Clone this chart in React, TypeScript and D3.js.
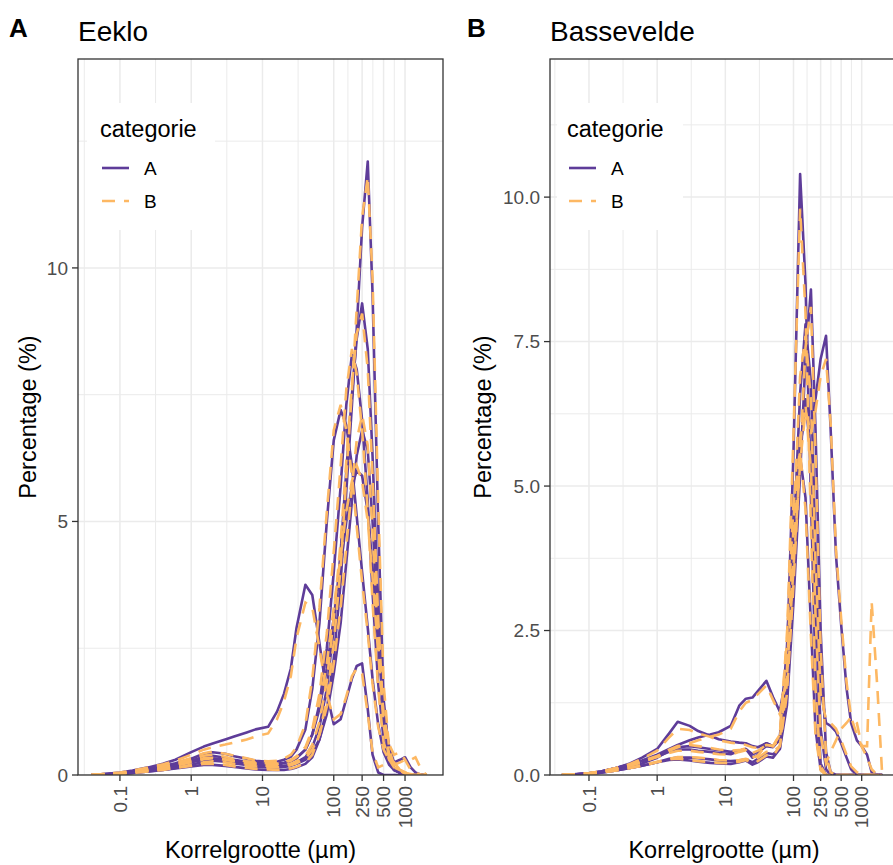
import React from 'react'
import * as d3 from 'd3'

// grain size classes (µm), shared by every sample
const grainSize = [0.04, 0.06, 0.1, 0.15, 0.25, 0.4, 0.6, 1, 1.5, 2,
  3, 4, 6, 8, 12, 16, 20, 25, 30, 40,
  50, 63, 80, 100, 125, 150, 180, 210, 250, 300,
  350, 420, 500, 600, 700, 850, 1000, 1200, 1400, 1700,
  2000]

// Eeklo, categorie A
const eekloA1 = [0, 0.01, 0.02, 0.04, 0.07, 0.1, 0.13, 0.17, 0.2, 0.2,
  0.18, 0.16, 0.13, 0.11, 0.1, 0.1, 0.1, 0.12, 0.15, 0.22,
  0.35, 0.7, 1.3, 2.3, 3.8, 5.6, 7.3, 8.8, 10.8, 12.1,
  9.5, 5.0, 1.5, 0.4, 0.15, 0.05, 0.02, 0, 0, 0, 0]
const eekloA2 = [0, 0.01, 0.03, 0.06, 0.1, 0.14, 0.19, 0.26, 0.32, 0.33,
  0.3, 0.26, 0.22, 0.19, 0.17, 0.17, 0.18, 0.2, 0.25, 0.35,
  0.55, 0.95, 1.7, 2.9, 4.4, 6.0, 7.5, 8.6, 9.3, 8.4,
  6.3, 3.4, 1.2, 0.35, 0.12, 0.05, 0.02, 0, 0, 0, 0]
const eekloA3 = [0, 0.01, 0.03, 0.06, 0.1, 0.15, 0.2, 0.28, 0.36, 0.38,
  0.34, 0.3, 0.26, 0.24, 0.22, 0.22, 0.24, 0.28, 0.34, 0.5,
  0.8, 1.4, 2.5, 4.0, 5.7, 7.3, 8.3, 8.0, 7.0, 5.4,
  3.6, 1.8, 0.7, 0.25, 0.1, 0.05, 0.02, 0, 0, 0, 0]
const eekloA4 = [0, 0.02, 0.04, 0.07, 0.12, 0.17, 0.23, 0.32, 0.42, 0.45,
  0.42, 0.37, 0.32, 0.28, 0.26, 0.26, 0.3, 0.36, 0.5, 0.9,
  1.7, 3.0, 5.0, 6.6, 7.2, 6.9, 6.1, 5.1, 4.0, 2.9,
  1.9, 1.0, 0.45, 0.2, 0.1, 0.05, 0.02, 0, 0, 0, 0]
const eekloA5 = [0, 0.01, 0.03, 0.05, 0.09, 0.13, 0.18, 0.25, 0.3, 0.32,
  0.3, 0.27, 0.24, 0.22, 0.2, 0.21, 0.23, 0.27, 0.33, 0.5,
  0.8, 1.3, 2.1, 3.1, 4.1, 5.0, 5.7, 6.0, 5.9, 5.2,
  4.1, 2.6, 1.3, 0.55, 0.25, 0.3, 0.35, 0.15, 0.05, 0, 0]
const eekloA6 = [0, 0.02, 0.05, 0.09, 0.15, 0.22, 0.3, 0.45, 0.56, 0.62,
  0.7, 0.76, 0.84, 0.9, 0.95, 1.25, 1.6, 2.1, 2.9, 3.75,
  3.55, 2.6, 1.6, 1.0, 1.1, 1.5, 1.9, 2.15, 2.2, 1.3,
  0.4, 0.05, 0, 0, 0, 0, 0, 0, 0, 0, 0]
const eekloA7 = [0, 0.01, 0.02, 0.04, 0.07, 0.1, 0.14, 0.2, 0.26, 0.28,
  0.26, 0.23, 0.2, 0.17, 0.15, 0.15, 0.16, 0.18, 0.22, 0.3,
  0.45, 0.7, 1.2, 2.0, 3.0, 4.2, 5.4, 6.3, 6.8, 6.4,
  5.0, 2.9, 1.1, 0.3, 0.1, 0.04, 0, 0, 0, 0, 0]

// Eeklo, categorie B
const eekloB1 = [0, 0.01, 0.03, 0.05, 0.08, 0.11, 0.14, 0.18, 0.22, 0.22,
  0.2, 0.17, 0.14, 0.12, 0.11, 0.1, 0.11, 0.13, 0.16, 0.24,
  0.4, 0.8, 1.5, 2.6, 4.1, 5.9, 7.6, 9.2, 11.0, 11.8,
  9.8, 5.4, 1.8, 0.5, 0.2, 0.08, 0.03, 0, 0, 0, 0]
const eekloB2 = [0, 0.02, 0.04, 0.07, 0.11, 0.15, 0.2, 0.27, 0.33, 0.34,
  0.3, 0.27, 0.23, 0.2, 0.18, 0.18, 0.19, 0.22, 0.27, 0.38,
  0.6, 1.05, 1.85, 3.1, 4.6, 6.2, 7.7, 8.7, 9.1, 8.0,
  5.9, 3.1, 1.1, 0.4, 0.2, 0.1, 0.05, 0.02, 0, 0, 0]
const eekloB3 = [0, 0.01, 0.03, 0.06, 0.1, 0.15, 0.21, 0.3, 0.38, 0.4,
  0.36, 0.31, 0.27, 0.25, 0.23, 0.23, 0.25, 0.3, 0.37, 0.55,
  0.9, 1.6, 2.8, 4.4, 6.1, 7.6, 8.4, 7.9, 6.8, 5.2,
  3.4, 1.7, 0.65, 0.3, 0.15, 0.08, 0.04, 0.02, 0, 0, 0]
const eekloB4 = [0, 0.02, 0.04, 0.08, 0.12, 0.18, 0.24, 0.33, 0.43, 0.46,
  0.42, 0.38, 0.33, 0.29, 0.27, 0.28, 0.32, 0.4, 0.55, 1.0,
  1.9, 3.3, 5.2, 6.8, 7.3, 6.8, 5.9, 4.9, 3.8, 2.8,
  1.8, 0.95, 0.5, 0.3, 0.2, 0.25, 0.3, 0.3, 0.35, 0.1, 0]
const eekloB5 = [0, 0.01, 0.03, 0.05, 0.09, 0.13, 0.18, 0.25, 0.31, 0.33,
  0.31, 0.28, 0.25, 0.23, 0.21, 0.22, 0.24, 0.28, 0.35, 0.52,
  0.85, 1.4, 2.2, 3.3, 4.3, 5.2, 5.8, 6.1, 5.8, 5.0,
  3.9, 2.4, 1.2, 0.6, 0.4, 0.45, 0.3, 0.1, 0.05, 0, 0]
const eekloB6 = [0, 0.02, 0.05, 0.09, 0.15, 0.21, 0.28, 0.4, 0.5, 0.55,
  0.6, 0.64, 0.7, 0.76, 0.82, 1.1, 1.45, 1.95, 2.7, 3.4,
  3.3, 2.5, 1.6, 1.1, 1.2, 1.55, 1.95, 2.1, 2.0, 1.2,
  0.45, 0.15, 0.2, 0.3, 0.25, 0.1, 0.05, 0, 0, 0, 0]
const eekloB7 = [0, 0.01, 0.02, 0.04, 0.07, 0.1, 0.14, 0.2, 0.25, 0.27,
  0.25, 0.22, 0.19, 0.17, 0.15, 0.15, 0.16, 0.19, 0.23, 0.32,
  0.5, 0.8, 1.35, 2.2, 3.3, 4.5, 5.7, 6.6, 7.1, 6.5,
  4.8, 2.6, 1.0, 0.3, 0.15, 0.1, 0.05, 0, 0, 0, 0]

// Bassevelde, categorie A
const basseA1 = [0, 0.01, 0.02, 0.05, 0.1, 0.15, 0.2, 0.3, 0.42, 0.48,
  0.5, 0.48, 0.45, 0.43, 0.4, 0.42, 0.45, 0.36, 0.4, 0.5,
  0.48, 0.62, 2.0, 5.6, 10.4, 8.5, 4.8, 1.8, 0.2, 0,
  0, 0, 0, 0, 0, 0, 0, 0, 0, 0, 0]
const basseA2 = [0, 0.01, 0.02, 0.04, 0.08, 0.12, 0.16, 0.22, 0.28, 0.3,
  0.3, 0.29, 0.27, 0.25, 0.24, 0.25, 0.27, 0.22, 0.28, 0.38,
  0.36, 0.45, 1.2, 3.0, 5.2, 7.2, 8.4, 6.0, 2.5, 0.4,
  0.05, 0, 0, 0, 0, 0, 0, 0, 0, 0, 0]
const basseA3 = [0, 0.01, 0.03, 0.06, 0.12, 0.18, 0.25, 0.35, 0.45, 0.52,
  0.6, 0.65, 0.7, 0.74, 0.85, 1.2, 1.32, 1.34, 1.45, 1.63,
  1.35, 1.1, 1.8, 3.8, 5.6, 6.5, 6.0, 6.5, 7.2, 7.6,
  6.0, 3.8, 2.6, 1.5, 0.9, 0.6, 0.5, 0.35, 0.05, 0, 0]
const basseA4 = [0, 0.01, 0.03, 0.06, 0.12, 0.2, 0.3, 0.45, 0.72, 0.92,
  0.85, 0.76, 0.68, 0.62, 0.58, 0.56, 0.55, 0.5, 0.48, 0.55,
  0.5, 0.6, 1.6, 4.0, 6.6, 7.8, 6.8, 4.0, 1.5, 0.9,
  0.85, 0.75, 0.55, 0.3, 0.1, 0, 0, 0, 0, 0, 0]
const basseA5 = [0, 0.01, 0.02, 0.04, 0.08, 0.12, 0.16, 0.22, 0.26, 0.27,
  0.25, 0.23, 0.21, 0.2, 0.19, 0.22, 0.25, 0.18, 0.22, 0.32,
  0.3, 0.45, 1.5, 3.6, 5.6, 6.5, 5.5, 3.0, 0.8, 0.1,
  0, 0, 0, 0, 0, 0, 0, 0, 0, 0, 0]
const basseA6 = [0, 0.01, 0.03, 0.06, 0.12, 0.18, 0.24, 0.32, 0.4, 0.44,
  0.44, 0.42, 0.4, 0.38, 0.36, 0.42, 0.45, 0.3, 0.35, 0.55,
  0.5, 0.65, 2.2, 4.4, 5.5, 4.8, 2.6, 0.8, 0.1, 0,
  0, 0, 0, 0, 0, 0, 0, 0, 0, 0, 0]

// Bassevelde, categorie B
const basseB1 = [0, 0.01, 0.03, 0.06, 0.11, 0.16, 0.22, 0.32, 0.44, 0.5,
  0.52, 0.5, 0.47, 0.44, 0.42, 0.43, 0.46, 0.38, 0.42, 0.52,
  0.5, 0.7, 2.3, 5.9, 9.8, 8.0, 4.3, 1.5, 0.15, 0,
  0, 0, 0, 0, 0, 0, 0, 0, 0, 0, 0]
const basseB2 = [0, 0.01, 0.02, 0.04, 0.08, 0.12, 0.16, 0.22, 0.28, 0.31,
  0.31, 0.3, 0.28, 0.26, 0.25, 0.26, 0.28, 0.24, 0.3, 0.4,
  0.4, 0.5, 1.4, 3.3, 5.5, 7.4, 8.1, 5.6, 2.2, 0.35,
  0.05, 0, 0, 0, 0, 0, 0, 0, 0, 0, 0]
const basseB3 = [0, 0.01, 0.03, 0.06, 0.12, 0.17, 0.24, 0.33, 0.42, 0.48,
  0.55, 0.6, 0.66, 0.7, 0.8, 1.1, 1.25, 1.3, 1.4, 1.55,
  1.3, 1.05, 1.7, 3.6, 5.4, 6.3, 5.9, 6.3, 6.9, 7.2,
  6.1, 3.9, 2.7, 1.6, 1.0, 0.7, 0.5, 0.3, 0.1, 0, 0]
const basseB4 = [0, 0.01, 0.03, 0.06, 0.12, 0.19, 0.28, 0.42, 0.65, 0.8,
  0.78, 0.72, 0.66, 0.6, 0.56, 0.54, 0.52, 0.48, 0.47, 0.52,
  0.5, 0.62, 1.8, 4.3, 6.9, 7.6, 6.5, 3.7, 1.4, 0.95,
  0.9, 0.8, 0.6, 0.35, 0.15, 0.05, 0, 0, 0, 0, 0]
const basseB5 = [0, 0.01, 0.02, 0.04, 0.08, 0.12, 0.17, 0.23, 0.27, 0.28,
  0.26, 0.24, 0.22, 0.21, 0.2, 0.23, 0.26, 0.2, 0.24, 0.34,
  0.33, 0.5, 1.6, 3.8, 5.8, 6.4, 5.3, 2.8, 0.7, 0.2,
  0.4, 0.6, 0.8, 0.9, 1.0, 0.9, 0.5, 0.5, 3.0, 1.5, 0]
const basseB6 = [0, 0.01, 0.03, 0.06, 0.11, 0.17, 0.23, 0.31, 0.38, 0.42,
  0.42, 0.4, 0.38, 0.36, 0.35, 0.4, 0.43, 0.3, 0.34, 0.52,
  0.5, 0.7, 2.4, 4.7, 5.6, 4.6, 2.4, 0.7, 0.08, 0,
  0, 0, 0, 0, 0, 0, 0, 0, 0, 0, 0]

// axis ticks
const xTicks = [0.1, 1, 10, 100, 250, 500, 1000]
const xTickLabels = ['0.1', '1', '10', '100', '250', '500', '1000']
const xMinor = [0.0316, 0.316, 3.16, 31.6, 158, 354, 707]
const eekloYTicks = [0, 5, 10]
const eekloYMinor = [2.5, 7.5, 12.5]
const basseYTicks = [0, 2.5, 5, 7.5, 10]
const basseYMinor = [1.25, 3.75, 6.25, 8.75, 11.25]
const categories = ['A', 'B']

const PURPLE = '#5E3C99'
const ORANGE = '#FDB863'
const DASH = '13 9'
const LW = 2.6
const FONT = '"Liberation Sans", Arial, Helvetica, sans-serif'
const TOP = 59
const BOTTOM = 775

const panels = [
  {
    id: 'eeklo', tag: 'A', tagX: 9, title: 'Eeklo', left: 78, right: 443,
    xMin: 0.0258, xMax: 3410, yMax: 14.12,
    yTicks: eekloYTicks, yMinor: eekloYMinor, yFmt: (d: number) => String(d),
    yTitleX: 36, legendX: 87, legendW: 128, legendPad: 13,
    catA: [eekloA1, eekloA2, eekloA3, eekloA4, eekloA5, eekloA6, eekloA7],
    catB: [eekloB1, eekloB2, eekloB3, eekloB4, eekloB5, eekloB6, eekloB7],
  },
  {
    id: 'basse', tag: 'B', tagX: 467, title: 'Bassevelde', left: 550, right: 898,
    xMin: 0.0268, xMax: 3410, yMax: 12.39,
    yTicks: basseYTicks, yMinor: basseYMinor, yFmt: d3.format('.1f'),
    yTitleX: 491, legendX: 557, legendW: 126, legendPad: 10,
    catA: [basseA1, basseA2, basseA3, basseA4, basseA5, basseA6],
    catB: [basseB1, basseB2, basseB3, basseB4, basseB5, basseB6],
  },
]

function Panel({ p }: { p: any }) {
  const x = d3.scaleLog().domain([p.xMin, p.xMax]).range([p.left, p.right])
  const y = d3.scaleLinear().domain([0, p.yMax]).range([BOTTOM, TOP])
  const line = d3.line<number>()
    .x((_, i) => x(grainSize[i]))
    .y(d => y(d))
  const clipId = 'clip-' + p.id
  const grid = '#EBEBEB'
  const midX = (p.left + p.right) / 2
  const lx = p.legendX
  return (
    <g>
      <defs>
        <clipPath id={clipId}>
          <rect x={p.left} y={TOP} width={p.right - p.left} height={BOTTOM - TOP} />
        </clipPath>
      </defs>
      <text x={p.tagX} y={37} fontSize={26} fontWeight="bold" fill="#000">{p.tag}</text>
      <text x={p.left} y={41} fontSize={28} fill="#000">{p.title}</text>

      <rect x={p.left} y={TOP} width={p.right - p.left} height={BOTTOM - TOP} fill="#fff" />
      <g clipPath={`url(#${clipId})`}>
        {p.yMinor.map((v: number) => (
          <line key={'ym' + v} x1={p.left} x2={p.right} y1={y(v)} y2={y(v)} stroke={grid} strokeWidth={1} />
        ))}
        {xMinor.map(v => (
          <line key={'xm' + v} x1={x(v)} x2={x(v)} y1={TOP} y2={BOTTOM} stroke={grid} strokeWidth={1} />
        ))}
        {p.yTicks.map((v: number) => (
          <line key={'yg' + v} x1={p.left} x2={p.right} y1={y(v)} y2={y(v)} stroke={grid} strokeWidth={1.5} />
        ))}
        {xTicks.map(v => (
          <line key={'xg' + v} x1={x(v)} x2={x(v)} y1={TOP} y2={BOTTOM} stroke={grid} strokeWidth={1.5} />
        ))}

        {/* legend box sits inside the panel, over the grid */}
        <rect x={lx} y={103} width={p.legendW} height={127} fill="#fff" />

        {p.catA.map((s: number[], i: number) => (
          <path key={'a' + i} d={line(s) || ''} fill="none" stroke={PURPLE} strokeWidth={LW} strokeLinejoin="round" />
        ))}
        {p.catB.map((s: number[], i: number) => (
          <path key={'b' + i} d={line(s) || ''} fill="none" stroke={ORANGE} strokeWidth={LW} strokeDasharray={DASH} />
        ))}
      </g>

      {/* legend */}
      <text x={lx + p.legendPad} y={137} fontSize={23.5} fill="#000">categorie</text>
      {categories.map((c, i) => (
        <g key={c}>
          <line x1={lx + p.legendPad + 2} x2={lx + p.legendPad + 29} y1={168 + i * 33} y2={168 + i * 33}
            stroke={c === 'A' ? PURPLE : ORANGE} strokeWidth={LW}
            strokeDasharray={c === 'A' ? undefined : DASH} />
          <text x={lx + p.legendPad + 44} y={175 + i * 33} fontSize={19} fill="#000">{c}</text>
        </g>
      ))}

      <rect x={p.left} y={TOP} width={p.right - p.left} height={BOTTOM - TOP} fill="none" stroke="#333333" strokeWidth={1.3} />

      {/* y axis */}
      {p.yTicks.map((v: number) => (
        <g key={'yt' + v}>
          <line x1={p.left - 6} x2={p.left} y1={y(v)} y2={y(v)} stroke="#333333" strokeWidth={1.3} />
          <text x={p.left - 10} y={y(v)} dy="0.35em" textAnchor="end" fontSize={19} fill="#4D4D4D">{p.yFmt(v)}</text>
        </g>
      ))}
      {/* x axis */}
      {xTicks.map((v, i) => (
        <g key={'xt' + v}>
          <line x1={x(v)} x2={x(v)} y1={BOTTOM} y2={BOTTOM + 6} stroke="#333333" strokeWidth={1.3} />
          <text transform={`translate(${x(v)},${BOTTOM + 11}) rotate(-90)`} dy="0.35em" textAnchor="end"
            fontSize={19} fill="#4D4D4D">{xTickLabels[i]}</text>
        </g>
      ))}
      <text x={midX} y={858} textAnchor="middle" fontSize={23.5} fill="#000">Korrelgrootte (µm)</text>
      <text transform={`translate(${p.yTitleX},${(TOP + BOTTOM) / 2}) rotate(-90)`} textAnchor="middle"
        fontSize={23.5} fill="#000">Percentage (%)</text>
    </g>
  )
}

export default function App() {
  return (
    <svg width={893} height={865} fontFamily={FONT}
      style={{ position: 'absolute', left: 0, top: 0, background: '#fff' }}>
      <rect width={893} height={865} fill="#fff" />
      {panels.map(p => <Panel key={p.id} p={p} />)}
    </svg>
  )
}
